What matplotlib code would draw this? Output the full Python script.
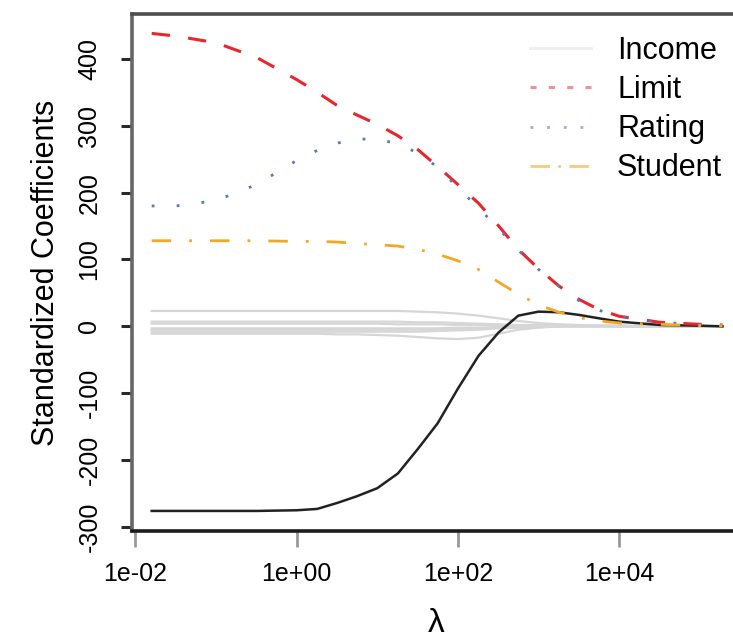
import numpy as np
import matplotlib
matplotlib.use("Agg")
import matplotlib.pyplot as plt
from matplotlib.lines import Line2D

plt.rcParams['font.family'] = ['Liberation Sans', 'DejaVu Sans']

# lambda grid
lam = [0.016, 0.032, 0.1, 0.32, 1, 1.8, 3.2, 5.6, 10, 18, 32, 56,
       100, 180, 320, 560, 1000, 1800, 3200, 5600, 1e4, 3.2e4, 1e5, 1.9e5]

income = [-276, -276, -276, -276, -275, -273, -264, -254, -242, -220, -183, -145,
          -93, -44, -9, 16, 22, 21, 17, 12, 7, 2, 1, 0]
limit = [438, 434, 424, 402, 369, 350, 330, 316, 302, 285, 264, 239,
         212, 184, 150, 115, 86, 60, 40, 25, 15, 6, 3, 2]
rating = [180, 180, 188, 212, 248, 263, 274, 280, 280, 273, 259, 238,
          207, 177, 146, 114, 85, 60, 38, 24, 15, 6, 3, 2]
student = [128, 128, 128, 128, 127, 127, 126, 124, 122, 120, 115, 108,
           98, 85, 66, 48, 32, 21, 13, 8, 5, 3, 1, 1]

# the remaining predictors, drawn in grey
others = [
    [23, 23, 23, 23, 23, 23, 23, 23, 23, 23, 22, 21, 19, 16, 12, 8, 5, 3, 2, 1, 1, 0, 0, 0],
    [7, 7, 7, 7, 7, 7, 7, 7, 7, 7, 6, 6, 5, 4, 3, 2, 2, 1, 1, 1, 0, 0, 0, 0],
    [4, 4, 4, 4, 4, 4, 4, 4, 4, 3, 3, 3, 2, 2, 2, 1, 1, 1, 1, 0, 0, 0, 0, 0],
    [-3, -3, -3, -3, -3, -3, -3, -3, -3, -3, -3, -3, -2, -2, -1, -1, 0, 0, 0, 0, 0, 0, 0, 0],
    [-5, -5, -5, -5, -5, -5, -5, -5, -5, -5, -5, -5, -4, -3, -2, -1, -1, 0, 0, 0, 0, 0, 0, 0],
    [-8, -8, -8, -8, -8, -8, -8, -8, -8, -8, -8, -7, -6, -5, -3, -2, -1, 0, 0, 0, 0, 0, 0, 0],
    [-11, -11, -11, -11, -11, -11, -12, -12, -13, -14, -16, -18, -19, -17, -11, -5, -2, 0, 1, 1, 1, 0, 0, 0],
]

xticks = [1e-2, 1, 1e2, 1e4]
xtick_labels = ["1e-02", "1e+00", "1e+02", "1e+04"]
yticks = [-300, -200, -100, 0, 100, 200, 300, 400]
ytick_labels = ["-300", "-200", "-100", "0", "100", "200", "300", "400"]

fig = plt.figure(figsize=(7.33, 6.4), dpi=100)
ax = fig.add_axes([132 / 733, 1 - 531 / 640, (733 - 132) / 733 + 0.01, (531 - 14) / 640])

for o in others:
    ax.plot(lam, o, color='#d6d6d6', lw=1.6, zorder=1)

ax.plot(lam, income, color='#222222', lw=1.8, zorder=3)
ax.plot(lam, limit, color='#e8262b', lw=2.2, dashes=(6, 6), zorder=4)
ax.plot(lam, rating, color='#5a78b8', lw=2.0, dashes=(1, 8), zorder=4)
ax.plot(lam, student, color='#f5a623', lw=2.0, dashes=(7, 6.5, 1, 6.5), zorder=4)

ax.set_xscale('log')
ax.set_xlim(10 ** -2.04, 10 ** 5.5)
ax.set_ylim(-306, 467)

ax.set_xticks(xticks)
ax.set_xticklabels(xtick_labels)
ax.minorticks_off()
ax.set_yticks(yticks)
ax.set_yticklabels(ytick_labels, rotation=90, va='center')

ax.tick_params(axis='y', length=8, width=2.2, color='#2a2a2a', pad=14, labelsize=18)
ax.tick_params(axis='x', length=11.5, width=2, color='#999999', pad=11, labelsize=18)

ax.spines['right'].set_visible(False)
ax.spines['left'].set_color('#666666')
ax.spines['top'].set_color('#4d4d4d')
ax.spines['bottom'].set_color('#1c1c1c')
for s in ['left', 'top', 'bottom']:
    ax.spines[s].set_linewidth(2.6)

ax.set_ylabel("Standardized Coefficients", fontsize=22, labelpad=12)
ax.set_xlabel("λ", fontsize=24, labelpad=16)

handles = [
    Line2D([], [], color='#eeeeee', lw=2),
    Line2D([], [], color='#e8262b', lw=2.2, dashes=(2, 4), alpha=0.5),
    Line2D([], [], color='#5a78b8', lw=2.0, dashes=(1, 5), alpha=0.6),
    Line2D([], [], color='#f5a623', lw=2.0, dashes=(7, 3, 1, 3), alpha=0.6),
]
fig.legend(handles, ["Income", "Limit", "Rating", "Student"],
           loc='upper left', bbox_to_anchor=(530 / 733, 1 - 36 / 640),
           frameon=False, fontsize=22, handlelength=2.0, handletextpad=0.85,
           labelspacing=0.3, borderpad=0, borderaxespad=0)

fig.savefig("out.png", dpi=100)
